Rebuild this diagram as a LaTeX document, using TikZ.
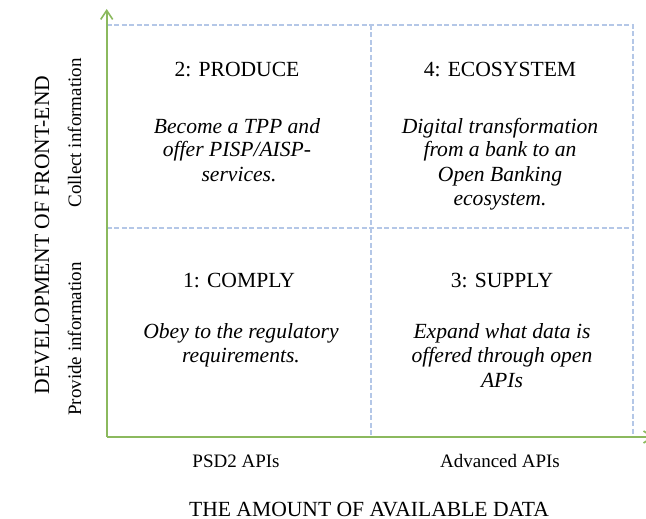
\documentclass[tikz,border=0pt]{standalone}
\usepackage{fontspec}
\setmainfont{Liberation Serif}
\usetikzlibrary{arrows.meta}
\definecolor{axisgreen}{RGB}{139,185,94}
\definecolor{gridblue}{RGB}{180,199,231}
\tikzset{
  axis/.style={draw=axisgreen, line width=2pt, -{Straight Barb[length=9pt,width=12pt,line width=1.6pt]}},
  grid/.style={draw=gridblue, line width=1.5pt, dash pattern=on 5pt off 2.5pt},
  head/.style={anchor=base, inner sep=0pt, font=\fontsize{21.6}{24}\selectfont},
  body/.style={anchor=base, inner sep=0pt, font=\fontsize{21.6}{24}\selectfont\itshape},
  small/.style={anchor=base, inner sep=0pt, font=\fontsize{19}{22}\selectfont},
  big/.style={anchor=base, inner sep=0pt, font=\fontsize{21.6}{24}\selectfont},
}
\begin{document}
\begin{tikzpicture}[x=1pt,y=-1pt]
\useasboundingbox (0,0) rectangle (646,519);
\clip (0,0) rectangle (646,519);
% grid corners
\coordinate (o) at (106.7,437);
\coordinate (tl) at (106.7,25);
\coordinate (tm) at (371,25);
\coordinate (tr) at (633,25);
\coordinate (ml) at (106.7,228);
\coordinate (mr) at (633,228);
\coordinate (bm) at (371,437);
\coordinate (br) at (633,437);
\coordinate (ytip) at (106.7,9);
\coordinate (xtip) at (654,437);
% dashed grid
\draw[grid] (tl) -- (tr) -- (br);
\draw[grid] (tm) -- (bm);
\draw[grid] (ml) -- (mr);
% axes
\draw[axis] (o) -- (ytip);
\draw[axis] (o) -- (xtip);
% quadrant 2
\node[head] (h2) at (237,77) {2: PRODUCE};
\node[body] (b2a) at (237,133) {Become a TPP and};
\node[body] (b2b) at (237,157) {offer PISP/AISP-};
\node[body] (b2c) at (239,181) {services.};
% quadrant 4
\node[head] (h4) at (500,77) {4: ECOSYSTEM};
\node[body] (b4a) at (500,133) {Digital transformation};
\node[body] (b4b) at (500,157) {from a bank to an};
\node[body] (b4c) at (500,181) {Open Banking};
\node[body] (b4d) at (500,205) {ecosystem.};
% quadrant 1
\node[head] (h1) at (239,287) {1: COMPLY};
\node[body] (b1a) at (241,338) {Obey to the regulatory};
\node[body] (b1b) at (241,362) {requirements.};
% quadrant 3
\node[head] (h3) at (502,287) {3: SUPPLY};
\node[body] (b3a) at (502,338) {Expand what data is};
\node[body] (b3b) at (502,362) {offered through open};
\node[body] (b3c) at (502,387) {APIs};
% axis labels
\node[small] (xl1) at (236,467.5) {PSD2 APIs};
\node[small] (xl2) at (500,467.5) {Advanced APIs};
\node[big] (xt) at (369,516) {THE AMOUNT OF AVAILABLE DATA};
\node[big, rotate=90] (yt) at (49,235) {DEVELOPMENT OF FRONT-END};
\node[small, rotate=90] (yl2) at (81,133) {Collect information};
\node[small, rotate=90] (yl1) at (81,339) {Provide information};
\end{tikzpicture}
\end{document}
